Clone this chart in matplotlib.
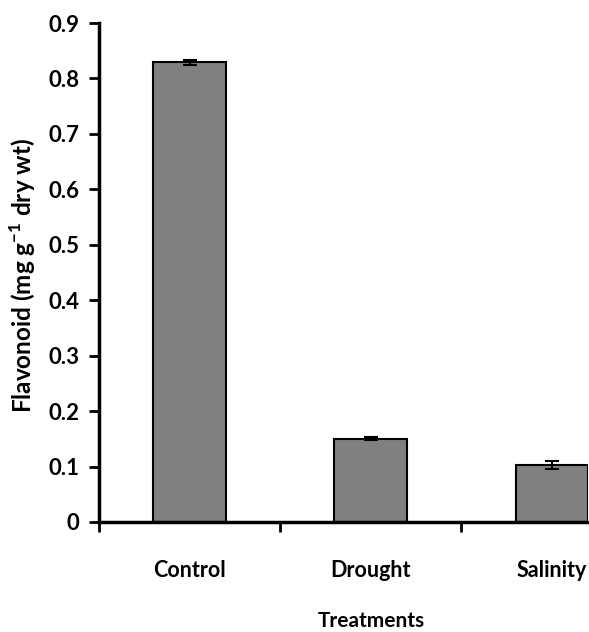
import matplotlib
matplotlib.use("Agg")
import matplotlib.pyplot as plt
import numpy as np

categories = ["Control", "Drought", "Salinity"]
values = [0.829, 0.150, 0.103]
errors = [0.005, 0.003, 0.007]
yticks = [0, 0.1, 0.2, 0.3, 0.4, 0.5, 0.6, 0.7, 0.8, 0.9]
ytick_labels = ["0", "0.1", "0.2", "0.3", "0.4", "0.5", "0.6", "0.7", "0.8", "0.9"]

plt.rcParams['font.family'] = ['Lato', 'DejaVu Sans']
plt.rcParams['mathtext.fontset'] = 'custom'
plt.rcParams['mathtext.bf'] = 'Lato:bold'
plt.rcParams['mathtext.rm'] = 'Lato:bold'

W, H = 589, 632
fig = plt.figure(figsize=(W/100, H/100), dpi=100)
ax = fig.add_axes([99/W, 1-522/H, (588-99)/W, (522-23)/H])

x = np.arange(len(categories))
ax.bar(x, values, width=0.4, color="#808080", edgecolor="black", linewidth=1.5,
       yerr=errors, error_kw=dict(ecolor="black", elinewidth=1.5, capsize=5, capthick=1.5))

ax.set_xlim(-0.5, 2.2)
ax.set_ylim(0, 0.9)
ax.set_yticks(yticks)
ax.set_yticklabels(ytick_labels, fontsize=16, fontweight="bold")
ax.set_xticks([-0.5, 0.5, 1.5])
ax.set_xticklabels([])
ax.tick_params(axis="y", direction="out", length=7, width=2, pad=7)
ax.tick_params(axis="x", direction="out", length=7, width=2)
for i, c in enumerate(categories):
    ax.text(i, -0.087, c, ha="center", va="center", fontsize=15.5, fontweight="bold",
            transform=ax.transData, clip_on=False)
ax.spines["top"].set_visible(False)
ax.spines["right"].set_visible(False)
ax.spines["left"].set_linewidth(2.5)
ax.spines["bottom"].set_linewidth(2.5)

fig.text(23/W, 1-276/H, r"Flavonoid (mg g$^{-1}$ dry wt)", rotation=90, ha="center", va="center",
         fontsize=17.5, fontweight="bold")
fig.text(371/W, 1-621/H, "Treatments", ha="center", va="center", fontsize=15, fontweight="bold")

fig.savefig("out.png", dpi=100)
